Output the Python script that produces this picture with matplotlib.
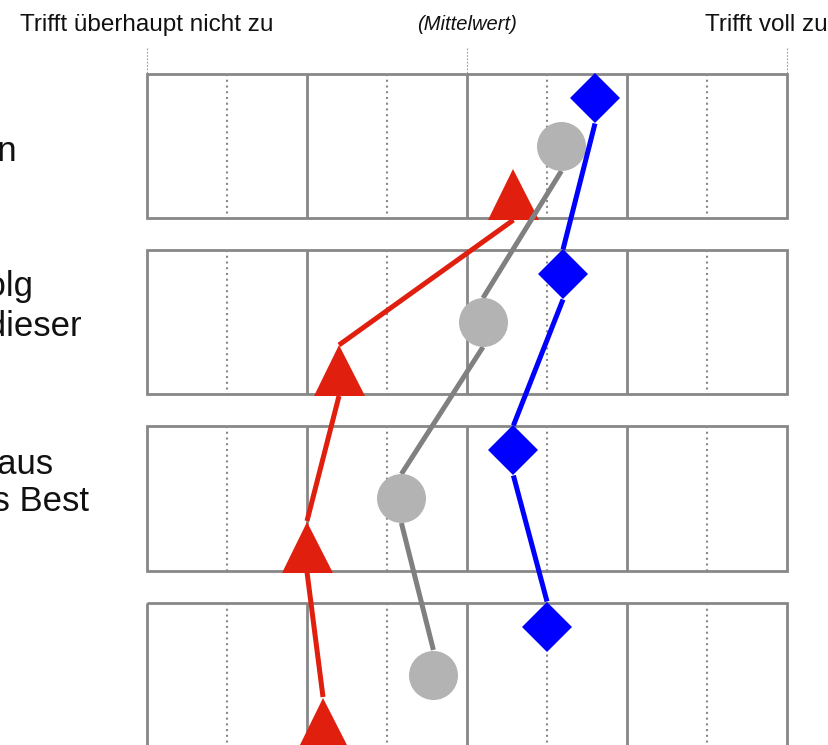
import matplotlib
matplotlib.use("Agg")
import matplotlib.pyplot as plt
from matplotlib.patches import Rectangle
import numpy as np

plt.rcParams['font.family'] = ['Liberation Sans', 'DejaVu Sans']

# ---- data -------------------------------------------------------------
scale_ticks = [1, 2, 3, 4, 5]
scale_half_ticks = [1.5, 2.5, 3.5, 4.5]

series_red = [3.29, 2.20, 2.00, 2.10]
series_gray = [3.59, 3.10, 2.59, 2.79]
series_blue = [3.80, 3.60, 3.29, 3.50]

header_left = "Trifft überhaupt nicht zu"
header_mid = "(Mittelwert)"
header_right = "Trifft voll zu"

item_label_lines = [
    ["Ich bringe meine Ideen aktiv ein"],
    ["Ich fühle mich mitverantwortlich für den Erfolg",
     "der Organisation und identifiziere mich mit dieser"],
    ["Erfahrungen tauschen wir im Team offen aus",
     "und übernehmen gelungene Lösungen als Best"],
    [],
]

# ---- layout (pixels of the 829 x 745 canvas) --------------------------
W, H, DPI = 829, 745, 100
X0_PX, UNIT_PX = 147, 160          # scale value 1 sits at x=147, 160 px per unit
ROW0_PX, ROW_PX = 74.5, 176        # first box top, row pitch
BOX_H = 144 / ROW_PX               # box height in row units


def to_x(px):
    return 1 + (px - X0_PX) / UNIT_PX


def to_y(py):
    return (py - ROW0_PX) / ROW_PX


# label line right ends / baselines in pixels
label_pos_px = [
    [(17, 161)],
    [(33, 296), (82, 336)],
    [(53, 474), (89, 511)],
    [],
]

fig = plt.figure(figsize=(W / DPI, H / DPI), dpi=DPI)
ax = fig.add_axes([0, 0, 1, 1])
ax.set_xlim(to_x(0), to_x(W))
ax.set_ylim(to_y(H), to_y(0))
ax.axis('off')

box_color = '#878787'
dot_color = '#8a8a8a'
n_rows = len(series_red)

# boxes with solid unit lines and dotted half-unit lines
for i in range(n_rows):
    ax.add_patch(Rectangle((scale_ticks[0], i), scale_ticks[-1] - scale_ticks[0], BOX_H,
                           fill=False, edgecolor=box_color, linewidth=2.0, zorder=1))
    ax.vlines(scale_ticks[1:-1], i, i + BOX_H, colors=box_color, linewidth=2.0, zorder=1)
    ax.vlines(scale_half_ticks, i, i + BOX_H, colors=dot_color, linewidth=1.5,
              linestyles=(0, (1, 1.75)), zorder=1)

# small dotted guides above the first box
ax.vlines([scale_ticks[0], scale_ticks[2], scale_ticks[-1]], to_y(48), 0,
          colors='#9a9a9a', linewidth=0.8, linestyles=(0, (1.5, 1.5)), zorder=1)

# header texts
ax.text(scale_ticks[0], to_y(31), header_left, ha='center', va='baseline',
        fontsize=17.5, color='#111111')
ax.text(scale_ticks[2], to_y(30), header_mid, ha='center', va='baseline',
        fontsize=14.5, fontstyle='italic', color='#111111')
ax.text(to_x(W - 1), to_y(31), header_right, ha='right', va='baseline',
        fontsize=17.5, color='#111111')

# item labels (left column, extending past the canvas edge)
for lines, positions in zip(item_label_lines, label_pos_px):
    for text, (xe, yb) in zip(lines, positions):
        ax.text(to_x(xe), to_y(yb), text, ha='right', va='baseline',
                fontsize=25, color='#111111')

# profile lines: segment from the bottom of one marker to the top of the next
pt = 72 / DPI  # points per pixel
series_specs = [
    # values, line colour, marker, marker colour, centre offset px, half height px, size px
    (series_red, '#e01f0e', '^', '#e01f0e', 120, 25.5, 51),
    (series_gray, '#808080', 'o', '#b3b3b3', 72, 24.5, 49),
    (series_blue, '#0000ff', 'D', '#0000ff', 24, 25, 50 / np.sqrt(2)),
]

for k, (vals, lc, mk, mc, off, half, size) in enumerate(series_specs):
    centers = np.arange(n_rows) + off / ROW_PX
    hh = half / ROW_PX
    xs, ys = [], []
    for i in range(n_rows - 1):
        xs += [vals[i], vals[i + 1], np.nan]
        ys += [centers[i] + hh, centers[i + 1] - hh, np.nan]
    z = 3 + 2 * k
    ax.plot(xs, ys, color=lc, linewidth=5 * pt, solid_capstyle='butt', zorder=z)
    ax.plot(vals, centers, linestyle='none', marker=mk, markersize=size * pt,
            markerfacecolor=mc, markeredgewidth=0, zorder=z + 1)

fig.savefig('out.png', dpi=DPI)
